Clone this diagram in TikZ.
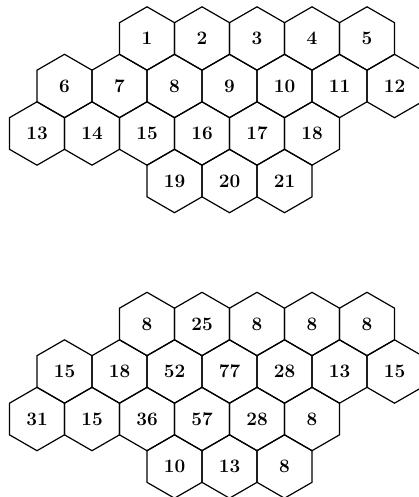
\documentclass[tikz,border=0pt]{standalone}
\usepackage{fontspec}
\usetikzlibrary{shapes.geometric}
\tikzset{
  hexcell/.style={draw, regular polygon, regular polygon sides=6,
                  shape border rotate=30, minimum size=63.4pt,
                  inner sep=0pt, outer sep=0pt, line width=1.2pt,
                  font=\fontsize{19}{22}\selectfont\bfseries}
}

\begin{document}
\begin{tikzpicture}[x=1pt, y=-1pt]
  \useasboundingbox (0,0) rectangle (419,497);
  \clip (0,0) rectangle (419,497);
  % upper grid: cell numbers
  \foreach \lab [count=\k from 0] in {1,...,5}
    \node[hexcell] (a\lab) at ({147+55*\k},38.5) {\lab};
  \foreach \lab [count=\k from 0] in {6,...,12}
    \node[hexcell] (a\lab) at ({64.5+55*\k},86) {\lab};
  \foreach \lab [count=\k from 0] in {13,...,18}
    \node[hexcell] (a\lab) at ({37+55*\k},133.5) {\lab};
  \foreach \lab [count=\k from 0] in {19,20,21}
    \node[hexcell] (a\lab) at ({174.5+55*\k},181) {\lab};
  % lower grid: counts
  \foreach \val [count=\k from 0] in {8,25,8,8,8}
    \node[hexcell] (b\k) at ({147+55*\k},324) {\val};
  \foreach \val [count=\k from 5] in {15,18,52,77,28,13,15}
    \node[hexcell] (b\k) at ({64.5+55*(\k-5)},371.5) {\val};
  \foreach \val [count=\k from 12] in {31,15,36,57,28,8}
    \node[hexcell] (b\k) at ({37+55*(\k-12)},419) {\val};
  \foreach \val [count=\k from 18] in {10,13,8}
    \node[hexcell] (b\k) at ({174.5+55*(\k-18)},466.5) {\val};
\end{tikzpicture}
\end{document}
